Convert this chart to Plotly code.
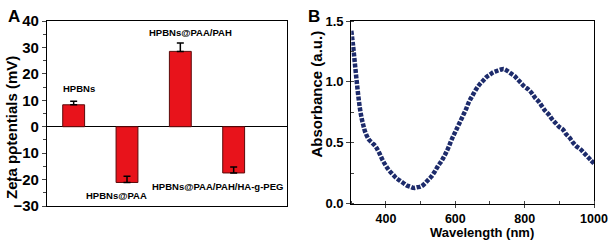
import plotly.graph_objects as go

# ---------- Panel A data ----------
samples = ["HPBNs", "HPBNs@PAA", "HPBNs@PAA/PAH", "HPBNs@PAA/PAH/HA-g-PEG"]
zeta = [8.3, -21.1, 28.5, -17.5]
zeta_err = [1.3, 2.4, 3.2, 2.3]
bar_pos = [1, 2, 3, 4]

# ---------- Panel B data ----------
wavelength = [300, 305, 310, 315, 320, 325, 330, 335, 340, 350, 360, 370, 380, 390,
              400, 410, 420, 430, 440, 450, 460, 470, 480, 490, 500, 510, 520, 530,
              540, 550, 560, 570, 580, 590, 600, 610, 620, 630, 640, 650, 660, 670,
              680, 690, 700, 710, 720, 730, 740, 750, 760, 770, 780, 790, 800, 810,
              820, 830, 840, 850, 860, 870, 880, 890, 900, 910, 920, 930, 940, 950,
              960, 970, 980, 990, 1000]
absorbance = [1.42, 1.30, 1.16, 1.02, 0.89, 0.78, 0.70, 0.64, 0.59, 0.53, 0.50, 0.47,
              0.42, 0.36, 0.31, 0.27, 0.24, 0.21, 0.19, 0.17, 0.15, 0.14, 0.13, 0.135,
              0.14, 0.16, 0.19, 0.22, 0.26, 0.31, 0.35, 0.40, 0.46, 0.53, 0.59, 0.65,
              0.71, 0.77, 0.84, 0.89, 0.94, 0.98, 1.01, 1.04, 1.06, 1.08, 1.09, 1.10,
              1.105, 1.09, 1.07, 1.05, 1.02, 0.99, 0.96, 0.94, 0.91, 0.87, 0.84, 0.80,
              0.76, 0.73, 0.69, 0.66, 0.63, 0.61, 0.57, 0.54, 0.50, 0.47, 0.45, 0.42,
              0.39, 0.36, 0.33]

W, H = 612, 243
FONT = "Liberation Sans, Arial, sans-serif"


def px(x):
    return x / W


def py(y):
    return 1 - y / H


fig = go.Figure()

fig.add_trace(go.Bar(
    x=bar_pos, y=zeta, width=0.41,
    marker=dict(color="#e8131b", line=dict(color="#5a0a0a", width=1)),
    error_y=dict(type="data", symmetric=False, array=zeta_err,
                 arrayminus=[0] * len(zeta_err),
                 color="black", thickness=1.5, width=3.5),
    xaxis="x", yaxis="y", showlegend=False,
))

fig.add_trace(go.Scatter(
    x=wavelength, y=absorbance, mode="lines",
    line=dict(color="#1d2b6b", width=4.5, dash="4px,1.5px", shape="spline"),
    xaxis="x2", yaxis="y2", showlegend=False,
))

axis_common = dict(showline=True, linecolor="black", linewidth=1.2, mirror=True,
                   showgrid=False)

fig.update_layout(
    width=W, height=H,
    margin=dict(l=0, r=0, t=0, b=0, autoexpand=False),
    paper_bgcolor="white", plot_bgcolor="white",
    font=dict(family=FONT, color="black"),
    xaxis=dict(domain=[px(47), px(287)], range=[0.5, 5.0], showticklabels=False,
               ticks="", zeroline=False, **axis_common),
    yaxis=dict(domain=[py(206), py(21)], range=[-30, 40], dtick=10,
               ticks="outside", ticklen=4, tickwidth=1.2,
               minor=dict(dtick=5, ticks="outside", ticklen=2.5, tickwidth=1),
               tickfont=dict(size=15, weight="bold", family=FONT),
               zeroline=True, zerolinecolor="black", zerolinewidth=1.2,
               **axis_common),
    xaxis2=dict(domain=[px(351.3), px(594)], range=[300, 1000], tick0=400, dtick=200,
                anchor="y2", ticks="outside", ticklen=3, tickwidth=1.2,
                minor=dict(dtick=100, ticks="inside", ticklen=3, tickwidth=1),
                tickfont=dict(size=12.5, weight="bold", family=FONT),
                zeroline=False, **axis_common),
    yaxis2=dict(domain=[py(203.7), py(21)], range=[0, 1.5], dtick=0.5, tickformat=".1f",
                anchor="x2", ticks="outside", ticklen=4, tickwidth=1.2,
                minor=dict(dtick=0.25, ticks="inside", ticklen=3, tickwidth=1),
                tickfont=dict(size=13, weight="bold", family=FONT),
                zeroline=False, **axis_common),
)

lab_font = dict(size=9.5, family=FONT, weight="bold", color="black")
label_pos = [(79, 88), (117, 195), (190, 33), (217, 186)]
for name, (lx, ly) in zip(samples, label_pos):
    fig.add_annotation(x=px(lx), y=py(ly), xref="paper", yref="paper", text=name,
                       showarrow=False, font=lab_font, xanchor="center", yanchor="middle")

title_font = dict(size=15, family=FONT, weight="bold", color="black")
fig.add_annotation(x=px(11), y=py(128), xref="paper", yref="paper",
                   text="Zeta potentials (mV)", textangle=-90, showarrow=False,
                   font=title_font, xanchor="center", yanchor="middle")
fig.add_annotation(x=px(315.5), y=py(94), xref="paper", yref="paper",
                   text="Absorbance (a.u.)", textangle=-90, showarrow=False,
                   font=dict(size=15, family=FONT, weight="bold", color="black"),
                   xanchor="center", yanchor="middle")
fig.add_annotation(x=px(482), y=py(232.5), xref="paper", yref="paper",
                   text="Wavelength (nm)", showarrow=False, borderpad=0,
                   font=dict(size=13, family=FONT, weight="bold", color="black"),
                   xanchor="center", yanchor="middle")

panel_font = dict(size=17, family=FONT, weight="bold", color="black")
fig.add_annotation(x=px(14), y=py(16), xref="paper", yref="paper", text="A",
                   showarrow=False, font=panel_font, xanchor="center", yanchor="middle")
fig.add_annotation(x=px(313.5), y=py(16), xref="paper", yref="paper", text="B",
                   showarrow=False, font=panel_font, xanchor="center", yanchor="middle")

fig.write_html(
    "out.html",
    config={"responsive": False, "displayModeBar": False},
    post_script="document.body.style.margin='0';document.body.style.padding='0';"
                "document.body.style.overflow='hidden';",
)
